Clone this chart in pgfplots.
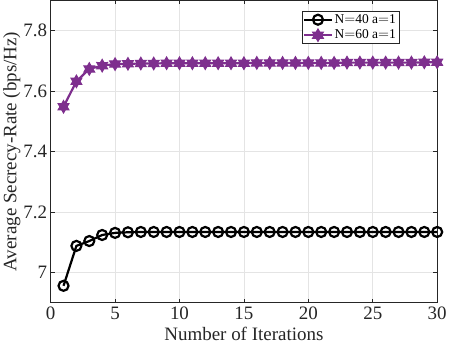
\documentclass[border=0pt]{standalone}
\usepackage{fontspec}
\setmainfont{Liberation Serif}
\usepackage{pgfplots}
\pgfplotsset{compat=1.18}

\definecolor{mpurple}{rgb}{0.494,0.184,0.556}
\definecolor{gridgray}{RGB}{228,228,228}
\definecolor{axgray}{RGB}{38,38,38}

% six-pointed star, like MATLAB's hexagram marker
\pgfdeclareplotmark{hexstar}{%
  \pgfpathmoveto{\pgfpointpolar{90}{1.25\pgfplotmarksize}}%
  \pgfpathlineto{\pgfpointpolar{120}{0.72\pgfplotmarksize}}%
  \pgfpathlineto{\pgfpointpolar{150}{1.25\pgfplotmarksize}}%
  \pgfpathlineto{\pgfpointpolar{180}{0.72\pgfplotmarksize}}%
  \pgfpathlineto{\pgfpointpolar{210}{1.25\pgfplotmarksize}}%
  \pgfpathlineto{\pgfpointpolar{240}{0.72\pgfplotmarksize}}%
  \pgfpathlineto{\pgfpointpolar{270}{1.25\pgfplotmarksize}}%
  \pgfpathlineto{\pgfpointpolar{300}{0.72\pgfplotmarksize}}%
  \pgfpathlineto{\pgfpointpolar{330}{1.25\pgfplotmarksize}}%
  \pgfpathlineto{\pgfpointpolar{0}{0.72\pgfplotmarksize}}%
  \pgfpathlineto{\pgfpointpolar{30}{1.25\pgfplotmarksize}}%
  \pgfpathlineto{\pgfpointpolar{60}{0.72\pgfplotmarksize}}%
  \pgfpathclose
  \pgfusepathqfillstroke
}

\begin{document}
\begin{tikzpicture}
\begin{axis}[
    scale only axis,
    width=386bp, height=302bp,
    xmin=0, xmax=30, ymin=6.9, ymax=7.9,
    xtick={0,5,...,30},
    ytick={7,7.2,7.4,7.6,7.8},
    yticklabels={7,7.2,7.4,7.6,7.8},
    tick align=inside,
    major tick length=4bp,
    axis line style={axgray, line width=0.6bp},
    tick style={axgray, line width=0.6bp},
    grid=major,
    grid style={gridgray, line width=0.6bp},
    /pgf/number format/assume math mode=true,
    tick label style={font=\fontsize{19}{21}\selectfont, text=axgray},
    label style={font=\fontsize{19}{21}\selectfont, text=axgray},
    xticklabel style={yshift=-1bp},
    xlabel={Number of Iterations},
    ylabel={Average Secrecy-Rate (bps/Hz)},
    xlabel style={yshift=0bp},
    ylabel style={yshift=-4bp},
    legend style={
        at={(0.9016,0.964)}, anchor=north east,
        font=\fontsize{13.5}{16}\selectfont,
        draw=axgray, line width=0.6bp,
        inner xsep=1bp, inner ysep=1bp,
        row sep=1bp, cells={anchor=west},
    },
    legend image code/.code={%
        \draw[mark repeat=2,mark phase=2] plot coordinates {(0cm,0cm) (0.48cm,0cm) (0.96cm,0cm)};
    },
]

\addplot[black, line width=2.2bp, mark=o, mark size=5bp,
         mark options={line width=2.2bp}] coordinates {
    (1,6.956) (2,7.088) (3,7.104) (4,7.124) (5,7.131) (6,7.133)
    (7,7.134) (8,7.134) (9,7.134) (10,7.134) (11,7.134) (12,7.134)
    (13,7.134) (14,7.134) (15,7.134) (16,7.134) (17,7.134) (18,7.134)
    (19,7.134) (20,7.134) (21,7.134) (22,7.134) (23,7.134) (24,7.134)
    (25,7.134) (26,7.134) (27,7.134) (28,7.134) (29,7.134) (30,7.134)
};
\addlegendentry{$\mathrm{N{=}40\ a{=}1}$}

\addplot[mpurple, line width=2.2bp, mark=hexstar, mark size=5bp,
         mark options={fill=mpurple, line width=1bp}] coordinates {
    (1,7.548) (2,7.632) (3,7.673) (4,7.684) (5,7.689) (6,7.690)
    (7,7.691) (8,7.691) (9,7.692) (10,7.692) (11,7.692) (12,7.692)
    (13,7.692) (14,7.692) (15,7.692) (16,7.693) (17,7.693) (18,7.693)
    (19,7.693) (20,7.693) (21,7.693) (22,7.693) (23,7.694) (24,7.694)
    (25,7.694) (26,7.694) (27,7.694) (28,7.694) (29,7.695) (30,7.695)
};
\addlegendentry{$\mathrm{N{=}60\ a{=}1}$}

\end{axis}
\end{tikzpicture}
\end{document}
